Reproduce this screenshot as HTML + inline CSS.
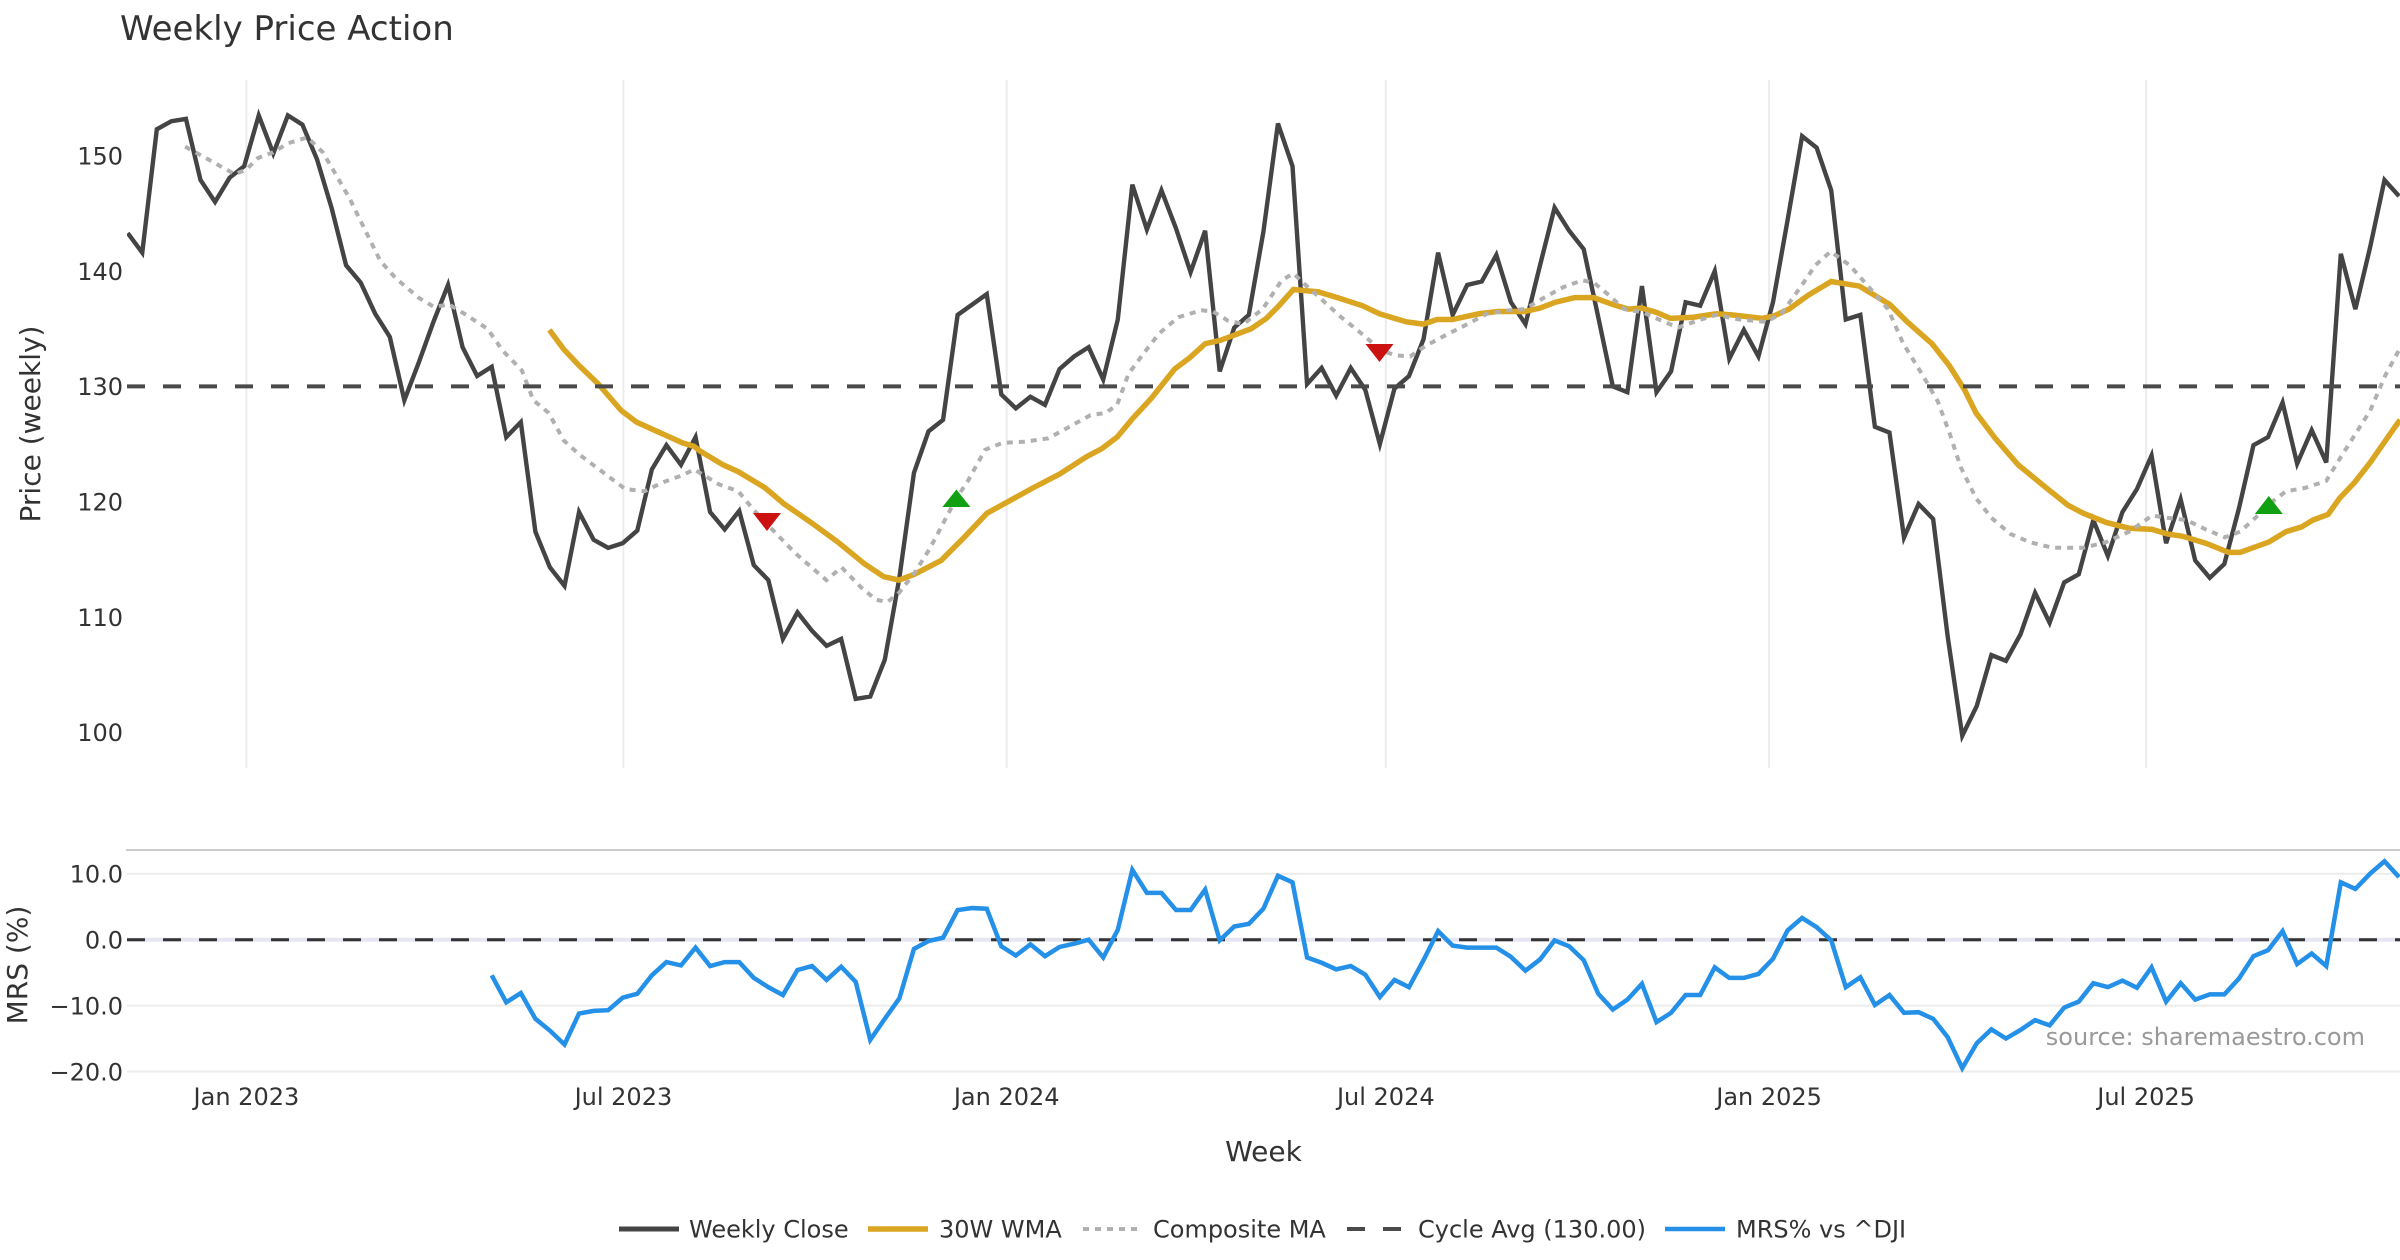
<!DOCTYPE html>
<html>
<head>
<meta charset="utf-8">
<style>
html,body{margin:0;padding:0;background:#fff;width:2400px;height:1260px;overflow:hidden;}
svg{display:block;font-family:"DejaVu Sans","Liberation Sans",sans-serif;}
</style>
</head>
<body>
<svg width="2400" height="1260" viewBox="0 0 2400 1260" xmlns="http://www.w3.org/2000/svg">
<defs>
<clipPath id="cp1"><rect x="127" y="80" width="2273" height="688"/></clipPath>
<clipPath id="cp2"><rect x="127" y="851" width="2273" height="225"/></clipPath>
</defs>
<rect width="2400" height="1260" fill="#fff"/>

<!-- Title -->
<text x="120" y="40" font-size="34" fill="#333">Weekly Price Action</text>

<!-- Price panel vertical grid -->
<g stroke="#ececec" stroke-width="2">
<line x1="246.4" y1="80" x2="246.4" y2="768"/>
<line x1="623.4" y1="80" x2="623.4" y2="768"/>
<line x1="1006.7" y1="80" x2="1006.7" y2="768"/>
<line x1="1385.8" y1="80" x2="1385.8" y2="768"/>
<line x1="1769.1" y1="80" x2="1769.1" y2="768"/>
<line x1="2146.1" y1="80" x2="2146.1" y2="768"/>
</g>

<!-- Price y ticks -->
<g font-size="24" fill="#333" text-anchor="end">
<text x="123" y="164.5">150</text>
<text x="123" y="279.9">140</text>
<text x="123" y="395.2">130</text>
<text x="123" y="510.5">120</text>
<text x="123" y="625.8">110</text>
<text x="123" y="741.1">100</text>
</g>
<text transform="translate(40,424) rotate(-90)" text-anchor="middle" font-size="28" fill="#333">Price (weekly)</text>

<g clip-path="url(#cp1)">
<!-- Weekly close -->
<polyline fill="none" stroke="#444" stroke-width="4.4" vector-effect="non-scaling-stroke" transform="matrix(14.56,0,0,-11.53,127.7,1885.3)" points="0,143.3 1,141.6 2,152.3 3,153.0 4,153.2 5,147.9 6,146.0 7,148.1 8,149.1 9,153.5 10,150.2 11,153.5 12,152.7 13,149.7 14,145.5 15,140.5 16,139.0 17,136.3 18,134.3 19,128.8 20,132.1 21,135.6 22,138.8 23,133.4 24,130.9 25,131.7 26,125.6 27,126.9 28,117.4 29,114.3 30,112.7 31,119.1 32,116.7 33,116.0 34,116.4 35,117.5 36,122.8 37,124.9 38,123.2 39,125.6 40,119.1 41,117.6 42,119.2 43,114.5 44,113.2 45,108.1 46,110.4 47,108.8 48,107.5 49,108.1 50,102.9 51,103.1 52,106.3 53,113.4 54,122.5 55,126.1 56,127.1 57,136.2 58,137.1 59,138.0 60,129.3 61,128.1 62,129.1 63,128.4 64,131.5 65,132.6 66,133.4 67,130.6 68,135.8 69,147.5 70,143.6 71,147.0 72,143.7 73,139.9 74,143.5 75,131.3 76,135.1 77,136.2 78,143.4 79,152.8 80,149.1 81,130.2 82,131.6 83,129.2 84,131.6 85,129.7 86,125.0 87,129.8 88,130.9 89,134.1 90,141.6 91,136.2 92,138.8 93,139.1 94,141.4 95,137.3 96,135.4 97,140.5 98,145.5 99,143.5 100,141.9 101,136.0 102,130.0 103,129.5 104,138.7 105,129.5 106,131.3 107,137.3 108,137.0 109,140.0 110,132.4 111,134.9 112,132.6 113,137.3 114,144.4 115,151.7 116,150.7 117,147.0 118,135.8 119,136.2 120,126.5 121,126.0 122,116.9 123,119.8 124,118.5 125,108.3 126,99.7 127,102.3 128,106.7 129,106.2 130,108.5 131,112.1 132,109.5 133,113.0 134,113.7 135,118.4 136,115.3 137,119.1 138,121.1 139,124.0 140,116.4 141,120.2 142,114.9 143,113.4 144,114.6 145,119.4 146,124.9 147,125.6 148,128.6 149,123.3 150,126.2 151,123.4 152,141.5 153,136.7 154,142.0 155,147.9 156,146.5"/>

<!-- 30W WMA -->
<polyline fill="none" stroke="#DAA520" stroke-width="5.5" vector-effect="non-scaling-stroke" transform="matrix(1,0,0,-11.53,0,1885.3)" points="549.4,134.9 563.9,133.2 579.2,131.8 598.4,130.2 621.3,127.9 636.6,126.9 651.9,126.3 667.3,125.7 682.6,125.1 694.1,124.8 700,124.4 723,123.2 738.3,122.6 765.1,121.2 784.2,119.8 811,118.2 837.8,116.5 864.6,114.6 883.7,113.5 899,113.2 914.3,113.7 941.1,114.9 964.1,116.9 987,119.0 1010,120.1 1033,121.2 1059.7,122.4 1086.5,123.9 1101.8,124.6 1117.1,125.6 1132.5,127.2 1151.6,129.0 1174.6,131.5 1189.9,132.5 1205.2,133.7 1220.5,134.0 1235.8,134.5 1251.1,135.0 1266.4,135.9 1277.9,136.9 1293.4,138.4 1318.3,138.2 1337.4,137.7 1362.3,137.0 1379.5,136.3 1406.3,135.6 1423.5,135.4 1436.9,135.8 1452.2,135.8 1479,136.3 1498.1,136.5 1524.9,136.5 1540.2,136.8 1555.5,137.3 1574.7,137.7 1593.8,137.7 1613,137.1 1628.3,136.7 1641.7,136.8 1657,136.4 1670.4,135.9 1693.3,136.0 1716.3,136.3 1731.6,136.2 1762.2,135.9 1773.7,136.1 1789,136.7 1808.1,137.9 1831.1,139.1 1859.3,138.7 1889.9,137.1 1907.2,135.6 1932,133.7 1949.3,131.8 1964.6,129.7 1976,127.7 1995.2,125.5 2018.1,123.2 2044.9,121.3 2067.9,119.7 2083.2,119.0 2106.2,118.2 2129.1,117.7 2152.1,117.6 2167.4,117.2 2182.7,117.0 2205.7,116.4 2228.6,115.6 2240.1,115.6 2268.8,116.5 2286,117.4 2301.3,117.8 2312.8,118.4 2328.1,118.9 2339.6,120.3 2354.9,121.7 2370.2,123.4 2385.5,125.3 2400,127.1"/>

<!-- Composite MA -->
<polyline fill="none" stroke="#b0b0b0" stroke-width="4" stroke-dasharray="6,6" points="185.1,146.6 208,159.3 234.8,174.2 246.3,169.6 257.8,158.1 273.1,152.3 288.4,143.1 307.5,137.4 322.8,152.3 334.3,171.9 349.6,198.5 364.9,229.6 380.2,260.7 395.5,278.0 418.5,297.6 433.8,306.8 449.1,304.5 464.4,313.8 487.4,328.7 502.7,350.7 521.8,370.3 533.3,400.2 548.6,412.9 563.9,440.6 579.2,454.4 602.2,471.7 625.2,489.0 644.3,491.3 663.4,482.1 682.6,475.2 694.1,469.4 719.1,484.4 738.3,491.3 753.6,509.8 776.5,534.0 795.7,553.6 826.3,580.1 841.6,567.4 860.7,587.0 876,599.7 887.5,602.0 899,592.8 914.3,573.2 929.6,549.0 944.9,520.1 956.4,498.2 967.9,480.9 985.1,449.8 1002.3,442.9 1025.3,441.7 1048.3,438.3 1067.4,427.9 1090.4,415.2 1105.7,412.9 1117.1,404.8 1128.6,373.7 1143.9,353.0 1159.2,333.4 1178.4,317.2 1201.3,310.3 1212.8,311.5 1228.1,320.7 1243.4,324.1 1262.6,309.1 1281.7,280.3 1293.4,273.4 1306.8,286.1 1322.1,299.9 1341.2,317.2 1364.2,335.7 1379.5,349.5 1394.8,355.3 1410.1,356.4 1425.4,346.0 1444.6,335.7 1467.5,324.1 1486.7,313.8 1509.6,310.3 1524.9,309.1 1544.1,297.6 1563.2,287.2 1582.3,280.3 1593.8,282.6 1609.1,295.3 1624.4,309.1 1643.6,312.6 1658.9,319.5 1678,327.6 1697.1,320.7 1716.3,314.9 1739.2,319.5 1766,321.8 1781.3,313.8 1800.5,287.2 1815.3,265.3 1830.6,251.5 1849.8,265.3 1868.9,287.2 1888,309.1 1903.3,343.7 1922.5,374.9 1937.8,401.4 1949.3,432.5 1960.7,467.1 1976,498.2 1991.4,517.8 2010.5,534.0 2029.6,542.1 2052.6,547.8 2083.2,547.8 2106.2,542.1 2129.1,531.7 2152.1,515.5 2167.4,517.8 2186.5,520.1 2205.7,529.4 2224.8,537.4 2240.1,531.7 2255.4,517.8 2270.7,502.9 2286,491.3 2305.2,487.9 2326.2,480.9 2339.6,459.0 2354.9,434.8 2370.2,410.6 2385.5,374.9 2400,348.4"/>

<!-- Cycle avg -->
<line x1="127" y1="386.4" x2="2400" y2="386.4" stroke="#4a4a4a" stroke-width="4" stroke-dasharray="18,18"/>

<!-- Signals -->
<polygon points="753,513 781,513 767,531" fill="#cc1111"/>
<polygon points="1365.5,344 1393.5,344 1379.5,362" fill="#cc1111"/>
<polygon points="942.4,507 970.4,507 956.4,489.5" fill="#11a011"/>
<polygon points="2254.8,514 2282.8,514 2268.8,496" fill="#11a011"/>
</g>

<!-- MRS panel -->
<line x1="126" y1="850" x2="2400" y2="850" stroke="#cccccc" stroke-width="2"/>
<g stroke="#ececec" stroke-width="2">
<line x1="127" y1="873.8" x2="2400" y2="873.8"/>
<line x1="127" y1="1005.6" x2="2400" y2="1005.6"/>
<line x1="127" y1="1071.5" x2="2400" y2="1071.5"/>
</g>
<line x1="127" y1="939.7" x2="2400" y2="939.7" stroke="#e6e6f2" stroke-width="4"/>
<line x1="127" y1="939.7" x2="2400" y2="939.7" stroke="#333" stroke-width="3" stroke-dasharray="18,18"/>

<g font-size="24" fill="#333" text-anchor="end">
<text x="123" y="882.6">10.0</text>
<text x="123" y="948.5">0.0</text>
<text x="123" y="1014.4">−10.0</text>
<text x="123" y="1080.3">−20.0</text>
</g>
<text transform="translate(27,965) rotate(-90)" text-anchor="middle" font-size="28" fill="#333">MRS (%)</text>

<g clip-path="url(#cp2)">
<polyline fill="none" stroke="#2490e8" stroke-width="4.5" vector-effect="non-scaling-stroke" transform="matrix(14.56,0,0,-6.59,127.7,939.7)" points="25,-5.4 26,-9.5 27,-8.1 28,-12.0 29,-13.8 30,-15.9 31,-11.2 32,-10.8 33,-10.7 34,-8.8 35,-8.2 36,-5.4 37,-3.4 38,-3.9 39,-1.2 40,-4.0 41,-3.4 42,-3.4 43,-5.8 44,-7.2 45,-8.4 46,-4.6 47,-4.0 48,-6.1 49,-4.1 50,-6.4 51,-15.2 52,-12.0 53,-8.9 54,-1.4 55,-0.2 56,0.3 57,4.5 58,4.8 59,4.7 60,-1.0 61,-2.4 62,-0.7 63,-2.5 64,-1.1 65,-0.6 66,0.0 67,-2.7 68,1.5 69,10.6 70,7.1 71,7.1 72,4.5 73,4.5 74,7.6 75,-0.1 76,2.0 77,2.4 78,4.7 79,9.7 80,8.7 81,-2.7 82,-3.5 83,-4.5 84,-4.0 85,-5.3 86,-8.7 87,-6.1 88,-7.2 89,-3.1 90,1.3 91,-0.9 92,-1.2 93,-1.2 94,-1.2 95,-2.6 96,-4.7 97,-3.0 98,-0.1 99,-1.0 100,-3.1 101,-8.2 102,-10.6 103,-9.1 104,-6.7 105,-12.5 106,-11.1 107,-8.4 108,-8.4 109,-4.2 110,-5.8 111,-5.8 112,-5.2 113,-2.9 114,1.4 115,3.3 116,1.9 117,-0.1 118,-7.2 119,-5.7 120,-9.9 121,-8.4 122,-11.1 123,-11.0 124,-12.0 125,-14.8 126,-19.5 127,-15.7 128,-13.6 129,-15.0 130,-13.7 131,-12.2 132,-13.0 133,-10.3 134,-9.4 135,-6.6 136,-7.2 137,-6.2 138,-7.3 139,-4.2 140,-9.4 141,-6.6 142,-9.1 143,-8.3 144,-8.3 145,-5.9 146,-2.5 147,-1.6 148,1.3 149,-3.7 150,-2.1 151,-4.0 152,8.7 153,7.7 154,10.0 155,11.9 156,9.5"/>
</g>

<text x="2365" y="1045" font-size="24" fill="#999" text-anchor="end">source: sharemaestro.com</text>

<!-- X axis ticks -->
<g font-size="24" fill="#333" text-anchor="middle">
<text x="246.4" y="1105">Jan 2023</text>
<text x="623.4" y="1105">Jul 2023</text>
<text x="1006.7" y="1105">Jan 2024</text>
<text x="1385.8" y="1105">Jul 2024</text>
<text x="1769.1" y="1105">Jan 2025</text>
<text x="2146.1" y="1105">Jul 2025</text>
</g>
<text x="1263.5" y="1161" font-size="28" fill="#333" text-anchor="middle">Week</text>

<!-- Legend -->
<g font-size="24" fill="#333">
<line x1="619" y1="1229" x2="679" y2="1229" stroke="#444" stroke-width="5"/>
<text x="689" y="1237.7">Weekly Close</text>
<line x1="868" y1="1229" x2="928" y2="1229" stroke="#DAA520" stroke-width="5.5"/>
<text x="939" y="1237.7">30W WMA</text>
<line x1="1083" y1="1229" x2="1143" y2="1229" stroke="#b0b0b0" stroke-width="4" stroke-dasharray="6,6"/>
<text x="1153" y="1237.7">Composite MA</text>
<line x1="1347" y1="1229" x2="1407" y2="1229" stroke="#4a4a4a" stroke-width="4" stroke-dasharray="18,18"/>
<text x="1418" y="1237.7">Cycle Avg (130.00)</text>
<line x1="1665" y1="1229" x2="1725" y2="1229" stroke="#2490e8" stroke-width="4.5"/>
<text x="1736" y="1237.7">MRS% vs ^DJI</text>
</g>
</svg>
</body>
</html>
